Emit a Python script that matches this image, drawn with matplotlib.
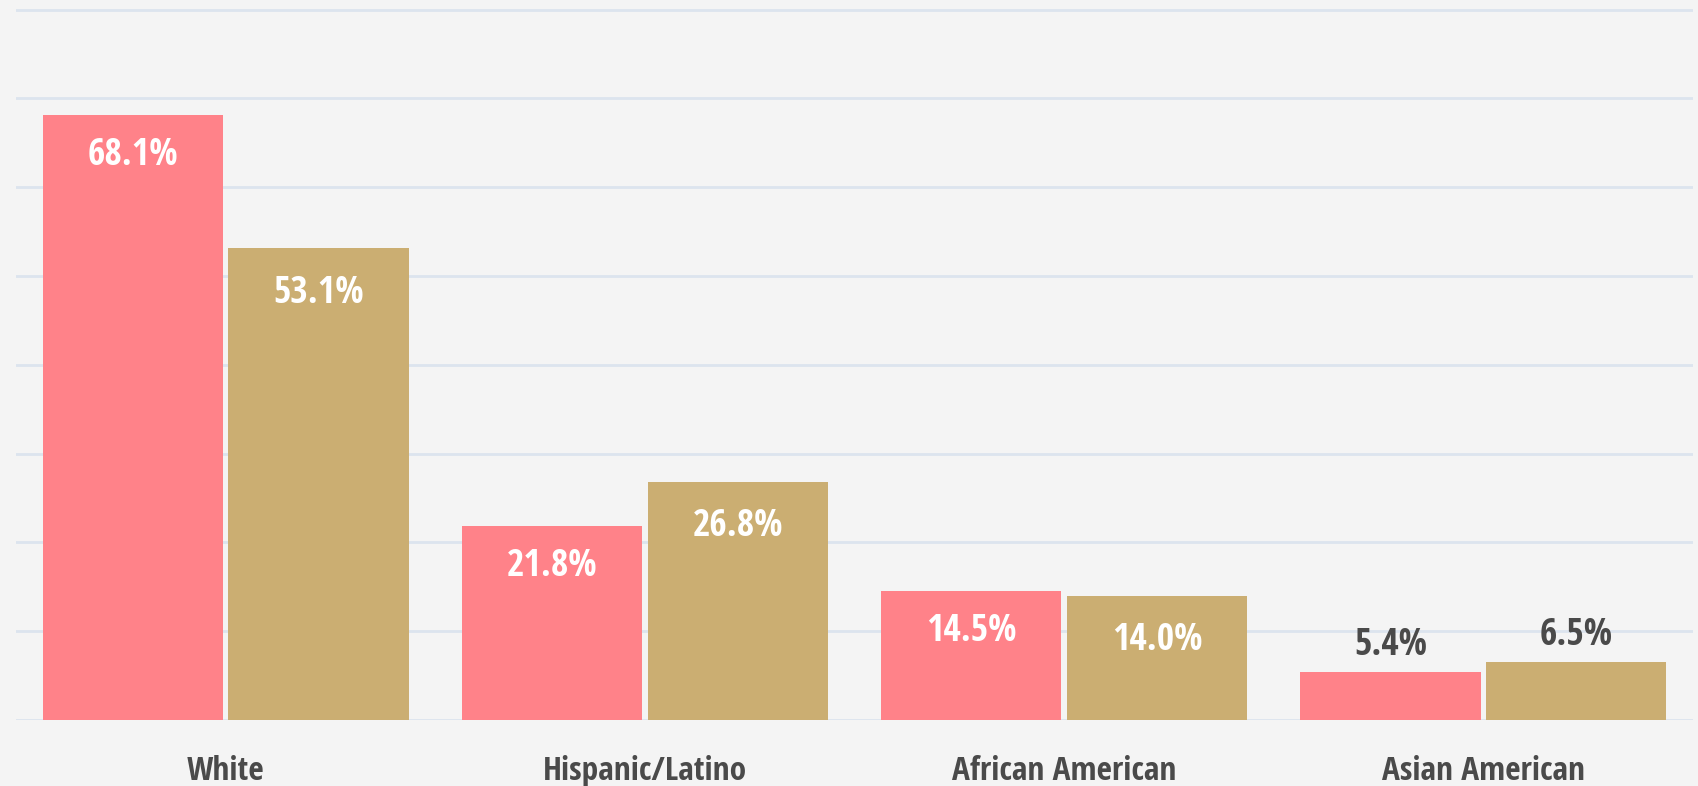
import matplotlib
matplotlib.use("Agg")
import matplotlib.pyplot as plt
from matplotlib import font_manager
from matplotlib.font_manager import FontProperties
import numpy as np

categories = ["White", "Hispanic/Latino", "African American", "Asian American"]
series_a = [68.1, 21.8, 14.5, 5.4]
series_b = [53.1, 26.8, 14.0, 6.5]
value_labels_a = ["68.1%", "21.8%", "14.5%", "5.4%"]
value_labels_b = ["53.1%", "26.8%", "14.0%", "6.5%"]


def is_bold(f):
    w = f.weight
    if isinstance(w, str):
        return w.lower() in ("bold", "semibold", "demibold", "heavy", "extra bold", "black")
    return w >= 600


def is_cond(f):
    st = str(f.stretch).lower()
    n = (f.name + " " + f.fname).lower()
    return ("condensed" in st) or ("narrow" in st) or ("condensed" in n) or ("narrow" in n)


cands = [f for f in font_manager.fontManager.ttflist if is_bold(f) and is_cond(f)
         and "oblique" not in f.fname.lower() and "italic" not in f.fname.lower()
         and f.style == "normal"]
pref = ["open sans", "roboto", "noto sans", "liberation", "dejavu"]


def rank(f):
    n = f.name.lower()
    for i, p in enumerate(pref):
        if p in n:
            return i
    return len(pref)


cands.sort(key=rank)
if cands:
    FP = FontProperties(fname=cands[0].fname)
else:
    FP = FontProperties(family="Open Sans", weight="bold")

BG = "#F4F4F4"
PINK = "#FF8289"
TAN = "#CBAE72"
DARK = "#4A4A4A"
GRID = "#DCE4EE"

fig = plt.figure(figsize=(16.98, 7.86), dpi=100, facecolor=BG)
ax = fig.add_axes([16/1698, 66/786, (1693-16)/1698, 720/786])
ax.set_facecolor(BG)

x = np.arange(len(categories))
w = 0.43
off = 0.2215
ax.bar(x - off, series_a, width=w, color=PINK, zorder=3)
ax.bar(x + off, series_b, width=w, color=TAN, zorder=3)

ax.set_xlim(-0.5, 3.5)
ax.set_ylim(0, 81.07)
ax.set_yticks(np.arange(0, 81, 10))
ax.yaxis.grid(True, color=GRID, linewidth=2, zorder=0)
ax.tick_params(left=False, labelleft=False, bottom=False, labelbottom=False)
for s in ax.spines.values():
    s.set_visible(False)

fs_val = 27
fs_cat = 24
for i in range(len(categories)):
    for xi, v, lab, d in ((x[i] - off, series_a[i], value_labels_a[i], 4.5),
                          (x[i] + off, series_b[i], value_labels_b[i], 5.0)):
        if v > 10:
            ax.text(xi, v - d, lab, ha="center", va="center", color="white",
                    fontproperties=FP, fontsize=fs_val, zorder=4)
        else:
            ax.text(xi, v + 3.1, lab, ha="center", va="center", color=DARK,
                    fontproperties=FP, fontsize=fs_val, zorder=4)
    ax.text(x[i], -5.85, categories[i], ha="center", va="center", color=DARK,
            fontproperties=FP, fontsize=fs_cat, clip_on=False)

fig.savefig("out.png", dpi=100, facecolor=BG)
